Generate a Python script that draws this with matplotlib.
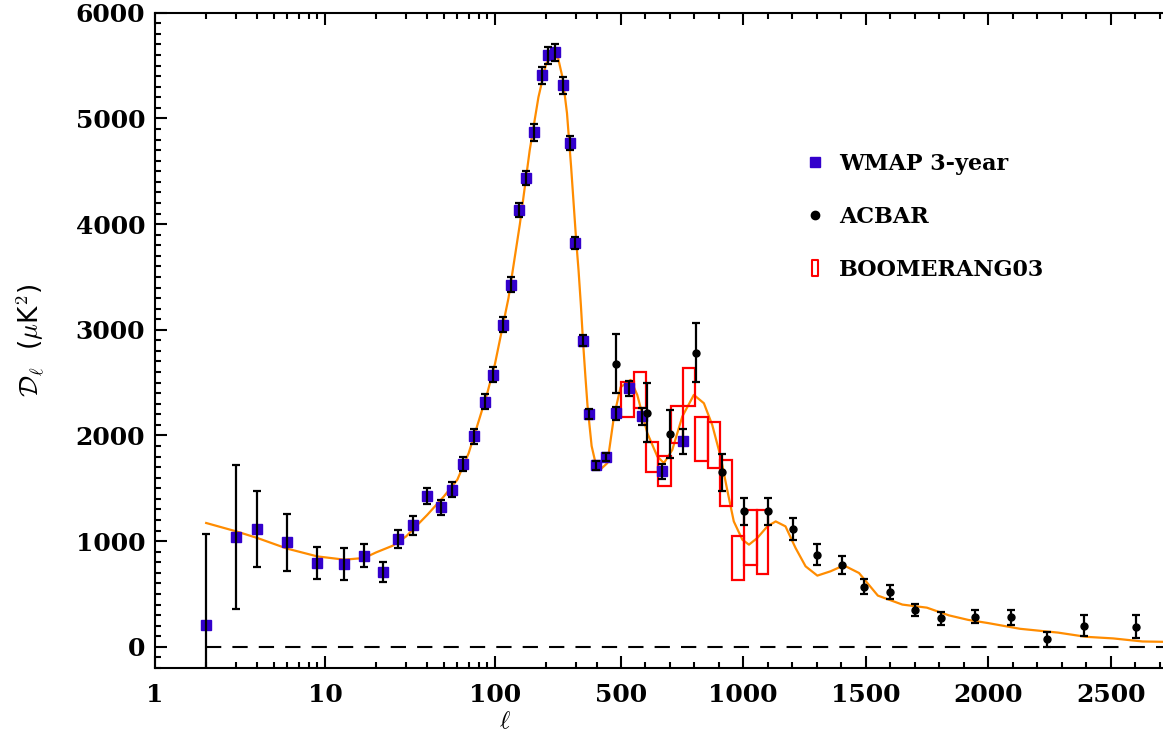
import numpy as np
import matplotlib
matplotlib.use("Agg")
import matplotlib.pyplot as plt
from matplotlib.lines import Line2D
from matplotlib.patches import Rectangle
from matplotlib.path import Path
from matplotlib.ticker import FixedLocator, MultipleLocator

plt.rcParams["lines.scale_dashes"] = False
plt.rcParams["mathtext.fontset"] = "cm"

# WMAP 3-year binned TT spectrum
wmap_ell = [2, 3, 4, 6, 9, 13, 17, 22, 27, 33, 40, 48, 56, 65, 75, 87, 97,
            111, 124, 138, 152, 170, 189, 205, 225, 251, 276, 296, 329, 357,
            393, 439, 482, 534, 586, 670, 756]
wmap_dl = [204, 1040, 1118, 989, 794, 784, 863, 709, 1021, 1150, 1424, 1320,
           1487, 1730, 1991, 2319, 2576, 3047, 3425, 4134, 4436, 4870, 5409,
           5598, 5626, 5315, 4767, 3822, 2898, 2205, 1716, 1796, 2211, 2448,
           2180, 1660, 1943]
wmap_err = [860, 685, 360, 272, 152, 153, 107, 96, 87, 87, 75, 70, 70, 70,
            70, 70, 70, 70, 70, 70, 70, 80, 80, 80, 80, 80, 70, 60, 50, 45,
            40, 40, 60, 70, 80, 70, 120]

# ACBAR band powers
acbar_ell = [482, 609, 701, 806, 912, 1003, 1103, 1205, 1303, 1405, 1493,
             1600, 1700, 1809, 1945, 2092, 2241, 2390, 2602]
acbar_dl = [2678, 2217, 2013, 2785, 1650, 1282, 1282, 1115, 872, 778, 570,
            520, 350, 269, 285, 280, 73, 200, 190]
acbar_err = [280, 280, 230, 280, 173, 126, 126, 100, 98, 85, 70, 70, 60, 60,
             60, 70, 70, 100, 110]

# BOOMERANG03 band powers: bin edges, centre value and 1-sigma half height
b03_lmin = [500, 555, 605, 652, 705, 755, 802, 855, 905, 953, 1005, 1055]
b03_lmax = [555, 605, 652, 705, 755, 802, 855, 905, 953, 1005, 1055, 1103]
b03_dl = [2338, 2428, 1794, 1660, 2105, 2459, 1964, 1912, 1547, 838, 1035, 992]
b03_err = [164, 168, 144, 142, 177, 178, 210, 220, 218, 208, 257, 299]

# best-fit LCDM model
model_ell = [2, 3, 4, 6, 9, 13, 17, 20, 25, 30, 40, 50, 60, 70, 80, 90, 100,
             120, 140, 160, 180, 200, 220, 235, 250, 265, 280, 300, 310, 320,
             329, 340, 350, 370, 390, 415, 446, 473, 500, 541, 568, 609, 650,
             677, 711, 752, 799, 840, 874, 908, 935, 962, 997, 1024, 1058,
             1099, 1133, 1173, 1214, 1255, 1303, 1357, 1411, 1473, 1550, 1650,
             1750, 1840, 1919, 2000, 2130, 2285, 2400, 2510, 2630, 2730]
model_dl = [1172, 1093, 1030, 929, 856, 825, 841, 894, 957, 1045, 1250, 1423,
            1581, 1833, 2132, 2400, 2680, 3300, 4000, 4700, 5200, 5520, 5600,
            5570, 5380, 5050, 4550, 3850, 3560, 3230, 2898, 2560, 2280, 1900,
            1740, 1676, 1739, 2180, 2457, 2526, 2384, 2023, 1801, 1739, 1864,
            2180, 2384, 2305, 2100, 1801, 1487, 1187, 1014, 967, 1030, 1140,
            1187, 1140, 936, 762, 674, 715, 771, 699, 485, 400, 371, 298, 255,
            225, 171, 135, 95, 80, 51, 47]

x_major = [1, 10, 100, 500, 1000, 1500, 2000, 2500]
x_labels = ["1", "10", "100", "500", "1000", "1500", "2000", "2500"]
x_minor = ([2, 3, 4, 5, 6, 7, 8, 9] + [20, 30, 40, 50, 60, 70, 80, 90]
           + [200, 300, 400] + [l for l in range(600, 2800, 100) if l % 500])

WMAP_COLOR = "#3300cc"
MODEL_COLOR = "#ff8c00"

# log in ell below the break, linear above it
L_BREAK = 420.0
K_LIN = 0.245 / 170.0
L_MAX = 2726


def fwd(l):
    l = np.asarray(l, dtype=float)
    safe = np.clip(l, 1e-6, None)
    return np.where(l <= L_BREAK, np.log10(safe),
                    np.log10(L_BREAK) + (l - L_BREAK) * K_LIN)


def inv(x):
    x = np.asarray(x, dtype=float)
    xb = np.log10(L_BREAK)
    return np.where(x <= xb, 10.0 ** np.minimum(x, xb),
                    L_BREAK + (x - xb) / K_LIN)


fig = plt.figure(figsize=(11.63, 7.36), dpi=100)
ax = fig.add_axes([155 / 1163, 1 - 668 / 736, (1166 - 155) / 1163, (668 - 12.7) / 736])
ax.set_xscale("function", functions=(fwd, inv))
ax.set_xlim(1, L_MAX)
ax.set_ylim(-200, 6000)

ax.plot(model_ell, model_dl, color=MODEL_COLOR, lw=1.6, zorder=2)

for lo, hi, d, e in zip(b03_lmin, b03_lmax, b03_dl, b03_err):
    ax.add_patch(Rectangle((lo, d - e), hi - lo, 2 * e, fill=False,
                           ec="red", lw=1.6, zorder=3))

ax.plot(wmap_ell, wmap_dl, "s", color=WMAP_COLOR, ms=6.5, zorder=4)
ax.errorbar(wmap_ell, wmap_dl, yerr=wmap_err, fmt="none", ecolor="black",
            elinewidth=1.6, capsize=3, capthick=1.6, zorder=5)
ax.errorbar(acbar_ell, acbar_dl, yerr=acbar_err, fmt="o", color="black",
            ms=5, elinewidth=1.6, capsize=3, capthick=1.6, zorder=5)

ax.hlines(0, wmap_ell[0], L_MAX, colors="black", lw=1.5,
          linestyles=[(0, (11, 8))], zorder=1)

ax.xaxis.set_major_locator(FixedLocator(x_major))
ax.xaxis.set_minor_locator(FixedLocator(x_minor))
ax.set_xticklabels(x_labels)
ax.yaxis.set_major_locator(MultipleLocator(1000))
ax.yaxis.set_minor_locator(MultipleLocator(100))

ax.tick_params(which="both", direction="in", top=True, right=False, width=1.5)
ax.tick_params(which="major", length=8.5)
ax.tick_params(which="minor", length=4.5)
ax.tick_params(axis="x", pad=11)
ax.tick_params(axis="y", pad=7)
for lab in ax.get_xticklabels() + ax.get_yticklabels():
    lab.set_fontfamily("DejaVu Serif")
    lab.set_fontweight("bold")
    lab.set_fontsize(18)
for sp in ax.spines.values():
    sp.set_linewidth(1.5)
ax.spines["right"].set_visible(False)

ax.set_ylabel(r"$\mathcal{D}_\ell$  ($\mu$K$^2$)", fontsize=19)
ax.yaxis.set_label_coords(-0.108, 0.5)
ax.set_xlabel(r"$\ell$", fontsize=18)
ax.xaxis.set_label_coords(0.346, -0.062)

rect_path = Path([(-0.35, -1), (0.35, -1), (0.35, 1), (-0.35, 1), (-0.35, -1)],
                 [Path.MOVETO, Path.LINETO, Path.LINETO, Path.LINETO, Path.CLOSEPOLY])
handles = [
    Line2D([], [], ls="none", marker="s", color=WMAP_COLOR, ms=7),
    Line2D([], [], ls="none", marker="o", color="black", ms=6),
    Line2D([], [], ls="none", marker=rect_path, mfc="none", mec="red",
           ms=12, mew=1.5),
]
leg = ax.legend(handles, ["WMAP 3-year", "ACBAR", "BOOMERANG03"],
                loc="upper left", bbox_to_anchor=(806 / 1163, 1 - 153 / 736),
                bbox_transform=fig.transFigure, frameon=False,
                prop={"family": "DejaVu Serif", "weight": "bold", "size": 16},
                handlelength=0.8, handletextpad=0.7, labelspacing=1.4,
                borderpad=0, borderaxespad=0)

fig.savefig("out.png", dpi=100)
